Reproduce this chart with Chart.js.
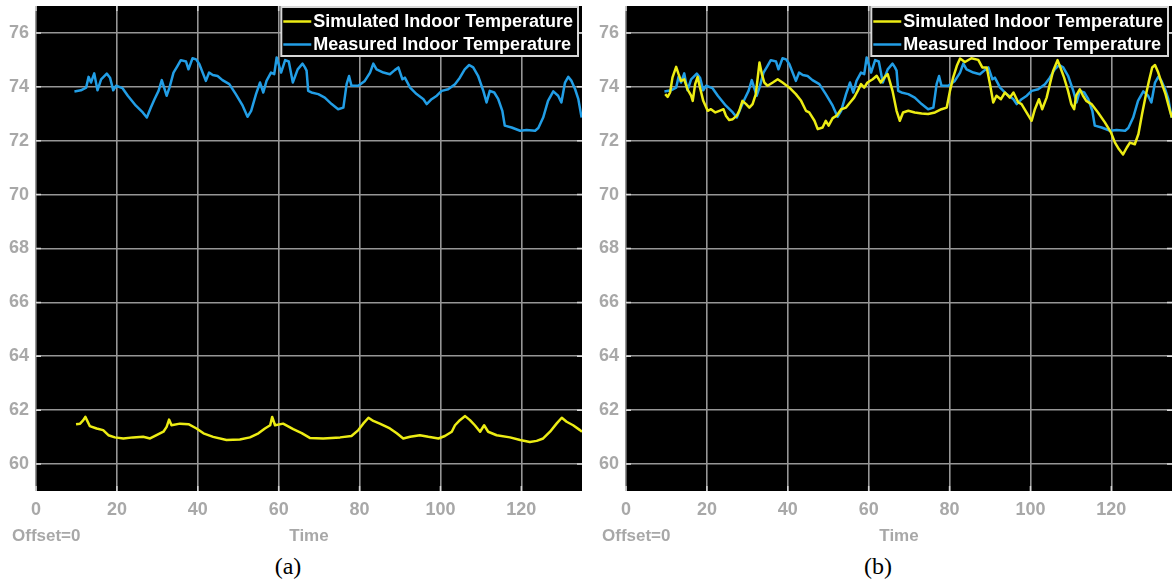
<!DOCTYPE html>
<html>
<head>
<meta charset="utf-8">
<script src="https://cdn.jsdelivr.net/npm/chart.js@4.4.1/dist/chart.umd.min.js"></script>
<style>
  html, body { margin: 0; padding: 0; background: #fff; }
  body { width: 1173px; height: 579px; position: relative; overflow: hidden; }
  .panel { position: absolute; top: 0; height: 550px; }
  #pa { left: 0; width: 590px; }
  #pb { left: 590px; width: 583px; }
  .cap {
    position: absolute; top: 552px; line-height: 28px;
    font-family: "Liberation Serif", "Times New Roman", serif;
    font-size: 24px; color: #000; transform: translateX(-50%);
  }
</style>
</head>
<body>
<div class="panel" id="pa"><canvas id="ca" width="590" height="550"></canvas></div>
<div class="panel" id="pb"><canvas id="cb" width="583" height="550"></canvas></div>
<div class="cap" style="left:288px">(a)</div>
<div class="cap" style="left:878px">(b)</div>

<script>
// ---- tick labels ----
const xTickValues = [0, 20, 40, 60, 80, 100, 120];
const yTickValues = [60, 62, 64, 66, 68, 70, 72, 74, 76];

// ---- series labels ----
const seriesNames = ['Simulated Indoor Temperature', 'Measured Indoor Temperature'];

// ---- measured indoor temperature (shared by both panels) ----
const measuredTime = [
  9.5, 11.1, 12.4, 13.0, 13.6, 14.4, 15.2, 16.1, 17.5, 18.3, 19.1, 19.8, 21.4, 22.7, 24.7,
  26.4, 27.4, 28.4, 29.3, 30.3, 31.1, 32.3, 33.0, 34.0, 35.0, 35.8, 37.1, 37.7, 38.7, 39.6,
  40.4, 42.0, 42.8, 43.7, 44.9, 46.1, 47.8, 49.4, 51.1, 52.3, 53.2, 54.4, 55.4, 56.2, 57.0,
  58.1, 58.9, 59.5, 60.6, 61.6, 62.5, 63.5, 64.7, 65.9, 66.5, 66.9, 67.3, 68.1, 69.8, 71.4,
  73.1, 74.7, 76.0, 76.8, 77.4, 78.0, 79.7, 81.3, 82.6, 83.4, 84.2, 85.9, 87.5, 88.7, 89.6,
  90.6, 91.2, 92.5, 94.1, 95.8, 96.6, 97.8, 99.1, 100.3, 101.9, 103.6, 104.8, 106.0, 107.1, 108.1,
  109.3, 110.6, 111.4, 112.2, 113.3, 114.3, 115.3, 115.9, 117.6, 119.7, 121.3, 123.4, 124.2, 125.4, 126.6,
  127.9, 129.1, 129.9, 130.8, 131.6, 132.4, 133.3, 134.1, 134.9
];
const measuredTemp = [
  73.83, 73.87, 73.97, 74.37, 74.16, 74.50, 73.87, 74.28, 74.49, 74.34, 73.87, 74.04, 73.95, 73.67, 73.30,
  73.05, 72.86, 73.23, 73.54, 73.85, 74.25, 73.67, 73.97, 74.53, 74.78, 74.99, 74.94, 74.65, 75.06, 75.02,
  74.84, 74.22, 74.53, 74.44, 74.40, 74.25, 74.10, 73.73, 73.30, 72.89, 73.11, 73.73, 74.16, 73.79, 74.22,
  74.53, 74.47, 75.09, 74.53, 74.99, 74.94, 74.16, 74.65, 74.86, 74.72, 74.60, 73.85, 73.79, 73.73, 73.60,
  73.36, 73.17, 73.23, 74.10, 74.40, 74.04, 74.04, 74.22, 74.53, 74.86, 74.65, 74.53, 74.47, 74.62, 74.72,
  74.28, 74.34, 73.97, 73.73, 73.54, 73.36, 73.54, 73.67, 73.85, 73.91, 74.10, 74.34, 74.65, 74.81, 74.72,
  74.41, 73.85, 73.42, 73.85, 73.79, 73.54, 73.11, 72.56, 72.49, 72.37, 72.40, 72.37, 72.47, 72.86, 73.48,
  73.83, 73.67, 73.42, 74.16, 74.37, 74.22, 73.91, 73.54, 72.86
];

// ---- simulated indoor temperature, panel (a) ----
const simATime = [
  9.9, 10.9, 11.7, 12.2, 13.3, 15.0, 16.6, 17.9, 19.5, 21.6, 24.0, 26.5, 28.2, 29.8, 31.5,
  32.3, 32.9, 33.5, 35.6, 37.7, 39.7, 41.4, 43.8, 47.1, 50.4, 52.9, 55.0, 56.6, 57.9, 58.4,
  59.1, 61.1, 63.6, 65.7, 67.7, 71.0, 75.2, 78.0, 79.7, 80.9, 82.2, 83.4, 85.0, 87.5, 89.2,
  90.8, 92.5, 94.9, 97.0, 99.5, 101.1, 102.8, 103.6, 104.8, 106.1, 107.3, 108.5, 109.8, 110.8, 111.8,
  113.9, 117.2, 119.7, 122.1, 123.8, 125.4, 127.1, 128.7, 130.0, 131.2, 132.8, 134.5, 135.0
];
const simATemp = [
  61.48, 61.50, 61.63, 61.75, 61.41, 61.32, 61.26, 61.07, 60.99, 60.95, 60.99, 61.01, 60.95, 61.07, 61.20,
  61.38, 61.65, 61.44, 61.50, 61.48, 61.32, 61.14, 61.01, 60.89, 60.91, 60.99, 61.14, 61.32, 61.44, 61.75,
  61.44, 61.50, 61.30, 61.15, 60.97, 60.95, 60.99, 61.04, 61.26, 61.50, 61.72, 61.60, 61.50, 61.32, 61.14,
  60.95, 61.01, 61.07, 61.01, 60.95, 61.04, 61.20, 61.44, 61.63, 61.78, 61.63, 61.44, 61.20, 61.44, 61.20,
  61.07, 60.99, 60.89, 60.82, 60.86, 60.95, 61.20, 61.50, 61.72, 61.57, 61.44, 61.26, 61.20
];

// ---- simulated indoor temperature, panel (b) ----
const simBTime = [
  9.7, 10.3, 10.9, 11.5, 12.4, 13.0, 13.6, 14.4, 15.2, 16.1, 16.5, 17.1, 17.7, 18.3, 19.1,
  20.2, 21.0, 22.1, 23.1, 24.1, 24.7, 25.5, 26.4, 27.4, 28.0, 28.8, 29.7, 30.5, 31.3, 32.1,
  33.0, 33.6, 34.2, 35.0, 36.3, 37.5, 38.7, 40.4, 42.0, 43.3, 44.5, 45.3, 46.6, 47.4, 48.6,
  49.4, 50.1, 51.1, 52.1, 53.2, 54.4, 55.4, 56.4, 57.3, 58.1, 58.9, 59.7, 61.0, 62.0, 63.0,
  63.9, 64.7, 65.9, 66.9, 67.7, 68.5, 69.8, 71.4, 73.1, 74.7, 76.4, 78.0, 79.3, 80.1, 80.9,
  81.8, 82.6, 83.8, 85.4, 87.1, 88.1, 89.2, 90.0, 90.8, 91.6, 92.7, 93.7, 94.9, 95.8, 97.0,
  97.8, 98.8, 100.3, 101.1, 102.1, 102.9, 104.0, 104.8, 105.6, 106.7, 107.4, 108.3, 109.3, 110.1, 110.8,
  111.3, 112.2, 113.0, 113.8, 115.1, 116.7, 118.4, 119.9, 120.9, 121.9, 122.9, 123.8, 124.6, 125.8, 126.7,
  127.6, 128.5, 129.3, 130.1, 130.8, 131.6, 132.4, 133.4, 134.5, 135.0
];
const simBTemp = [
  73.73, 73.63, 73.79, 74.35, 74.74, 74.47, 74.22, 74.28, 73.91, 73.67, 73.48, 74.10, 74.37, 73.97, 73.48,
  73.11, 73.17, 73.05, 73.11, 73.17, 72.93, 72.77, 72.80, 72.93, 73.11, 73.48, 73.36, 73.23, 73.36, 73.73,
  74.90, 74.47, 74.16, 74.04, 74.16, 74.28, 74.16, 73.97, 73.73, 73.48, 73.11, 73.05, 72.74, 72.43, 72.49,
  72.74, 72.56, 72.84, 72.93, 73.17, 73.23, 73.42, 73.60, 73.85, 74.10, 73.97, 74.16, 74.28, 74.41, 74.16,
  74.35, 74.47, 73.85, 73.11, 72.74, 73.05, 73.11, 73.05, 73.01, 72.99, 73.05, 73.17, 73.23, 73.85, 74.35,
  74.78, 75.05, 74.92, 75.06, 75.00, 74.72, 74.72, 74.10, 73.42, 73.67, 73.54, 73.79, 73.60, 73.79, 73.42,
  73.36, 73.11, 72.74, 73.17, 73.54, 73.17, 73.60, 74.10, 74.59, 74.99, 74.72, 74.35, 73.85, 73.36, 73.17,
  73.67, 73.91, 73.67, 73.48, 73.36, 73.05, 72.68, 72.31, 71.93, 71.68, 71.49, 71.74, 71.93, 71.87, 72.25,
  72.99, 73.67, 74.22, 74.72, 74.81, 74.53, 74.16, 73.73, 73.11, 72.86
];

// ---- styling ----
const YELLOW = 'rgb(236,236,20)';
const BLUE = 'rgb(34,158,230)';
const GRID = 'rgb(150,150,150)';
const TEXT = 'rgb(168,168,168)';
const FONT = '"Liberation Sans", Arial, sans-serif';
const LINE_W = 2.5;

const pts = (xs, ys) => xs.map((x, i) => ({ x: x, y: ys[i] }));

// Black plot area behind the grid
const plotBackground = {
  id: 'plotBackground',
  beforeDraw(chart) {
    const { ctx, chartArea: a } = chart;
    ctx.save();
    ctx.fillStyle = '#000';
    ctx.fillRect(a.left, a.top, a.right - a.left, a.bottom - a.top);
    ctx.restore();
  }
};

// Inner tick marks, legend box and the bottom captions
const scopeDecor = {
  id: 'scopeDecor',
  afterDatasetsDraw(chart) {
    const { ctx, chartArea: a, scales } = chart;
    ctx.save();
    // short inner tick marks on all four edges
    ctx.strokeStyle = 'rgb(215,215,215)';
    ctx.lineWidth = 1.5;
    ctx.beginPath();
    xTickValues.forEach(v => {
      const px = scales.x.getPixelForValue(v);
      ctx.moveTo(px, a.bottom); ctx.lineTo(px, a.bottom - 5);
      ctx.moveTo(px, a.top); ctx.lineTo(px, a.top + 5);
    });
    yTickValues.forEach(v => {
      const py = scales.y.getPixelForValue(v);
      ctx.moveTo(a.left, py); ctx.lineTo(a.left + 5, py);
      ctx.moveTo(a.right, py); ctx.lineTo(a.right - 5, py);
    });
    ctx.stroke();

    // legend box in the upper right corner
    ctx.font = 'bold 18px ' + FONT;
    const textW = Math.max(...chart.data.datasets.map(d => ctx.measureText(d.label).width));
    const boxW = 32 + textW + 5;
    const boxR = a.right - 4;
    const boxL = boxR - boxW;
    const boxT = a.top + 1;
    const boxH = 49;
    ctx.fillStyle = '#000';
    ctx.fillRect(boxL, boxT, boxW, boxH);
    ctx.strokeStyle = 'rgb(215,215,215)';
    ctx.lineWidth = 2;
    ctx.strokeRect(boxL, boxT, boxW, boxH);
    const rows = [boxT + 14.5, boxT + 37.5];
    chart.data.datasets.forEach((d, i) => {
      ctx.strokeStyle = d.borderColor;
      ctx.lineWidth = LINE_W;
      ctx.beginPath();
      ctx.moveTo(boxL + 2, rows[i]);
      ctx.lineTo(boxL + 30, rows[i]);
      ctx.stroke();
      ctx.fillStyle = '#fff';
      ctx.textBaseline = 'middle';
      ctx.textAlign = 'left';
      ctx.fillText(d.label, boxL + 32, rows[i] + 1);
    });

    // captions under the time axis
    ctx.fillStyle = TEXT;
    ctx.font = 'bold 17px ' + FONT;
    ctx.textBaseline = 'middle';
    ctx.textAlign = 'left';
    ctx.fillText('Offset=0', a.left - 24, 536);
    ctx.textAlign = 'center';
    ctx.fillText('Time', (a.left + a.right) / 2, 536);
    ctx.restore();
  }
};

function makeChart(canvasId, simX, simY, rightPad) {
  return new Chart(document.getElementById(canvasId), {
    type: 'line',
    data: {
      datasets: [
        { label: seriesNames[0], data: pts(simX, simY), borderColor: YELLOW, borderWidth: LINE_W, pointRadius: 0, tension: 0, borderJoinStyle: 'round' },
        { label: seriesNames[1], data: pts(measuredTime, measuredTemp), borderColor: BLUE, borderWidth: LINE_W, pointRadius: 0, tension: 0, borderJoinStyle: 'round' }
      ]
    },
    options: {
      responsive: false,
      animation: false,
      devicePixelRatio: 1,
      parsing: false,
      layout: { padding: { top: 6, right: rightPad, left: 0, bottom: 0 } },
      plugins: { legend: { display: false }, tooltip: { enabled: false } },
      scales: {
        x: {
          type: 'linear', min: 0, max: 135,
          afterBuildTicks: s => { s.ticks = xTickValues.map(v => ({ value: v })); },
          afterFit: s => { s.height = 59; s.paddingLeft = 0; s.paddingRight = 0; },
          grid: { color: GRID, lineWidth: 1.6, drawTicks: false },
          border: { display: false },
          ticks: { color: TEXT, font: { family: FONT, size: 18, weight: 'bold' }, padding: 8, maxRotation: 0, autoSkip: false }
        },
        y: {
          type: 'linear', min: 59, max: 77,
          afterBuildTicks: s => { s.ticks = yTickValues.map(v => ({ value: v })); },
          afterFit: s => { s.width = 36; s.paddingTop = 0; s.paddingBottom = 0; },
          grid: { color: GRID, lineWidth: 1.6, drawTicks: false },
          border: { display: false },
          ticks: { color: TEXT, font: { family: FONT, size: 18, weight: 'bold' }, padding: 7, autoSkip: false }
        }
      }
    },
    plugins: [plotBackground, scopeDecor]
  });
}

makeChart('ca', simATime, simATemp, 8);
makeChart('cb', simBTime, simBTemp, 1);
</script>
</body>
</html>
